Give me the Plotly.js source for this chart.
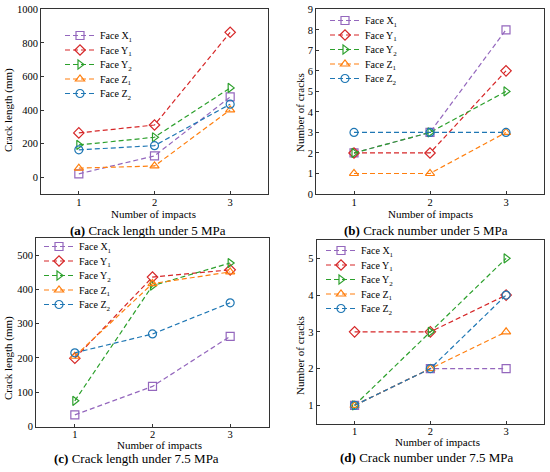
<!DOCTYPE html>
<html>
<head>
<meta charset="utf-8">
<script src="https://cdn.plot.ly/plotly-3.0.1.min.js"></script>
<style>html,body{margin:0;padding:0;background:#fff;}#chart{width:550px;height:472px;}</style>
</head>
<body>
<div id="chart"></div>
<script>
// ---- data ----
var impacts = [1, 2, 3];
var faceNames = ['Face X<sub>1</sub>', 'Face Y<sub>1</sub>', 'Face Y<sub>2</sub>', 'Face Z<sub>1</sub>', 'Face Z<sub>2</sub>'];

// (a) crack length under 5 MPa (mm)
var lenA_X1 = [20, 127, 478];
var lenA_Y1 = [264, 311, 863];
var lenA_Y2 = [192, 238, 532];
var lenA_Z1 = [54, 67, 401];
var lenA_Z2 = [163, 188, 435];

// (b) crack number under 5 MPa
var numB_X1 = [2, 3, 8];
var numB_Y1 = [2, 2, 6];
var numB_Y2 = [2, 3, 5];
var numB_Z1 = [1, 1, 3];
var numB_Z2 = [3, 3, 3];

// (c) crack length under 7.5 MPa (mm)
var lenC_X1 = [34, 117, 263];
var lenC_Y1 = [199, 436, 457];
var lenC_Y2 = [75, 411, 477];
var lenC_Z1 = [205, 417, 451];
var lenC_Z2 = [215, 270, 361];

// (d) crack number under 7.5 MPa
var numD_X1 = [1, 2, 2];
var numD_Y1 = [3, 3, 4];
var numD_Y2 = [1, 3, 5];
var numD_Z1 = [1, 2, 3];
var numD_Z2 = [1, 2, 4];

var xTickVals = [1, 2, 3];
var yTicksA = [0, 200, 400, 600, 800, 1000];
var yTicksB = [0, 1, 2, 3, 4, 5, 6, 7, 8, 9];
var yTicksC = [0, 100, 200, 300, 400, 500];
var yTicksD = [1, 2, 3, 4, 5];

// ---- styling ----
var colors = ['#9467bd', '#d62728', '#2ca02c', '#ff7f0e', '#1f77b4'];
var symbols = ['square-open', 'diamond-open', 'triangle-right-open', 'triangle-up-open', 'circle-open'];
var FONT = 'Liberation Serif';

var W = 550, H = 472;
function px(x) { return x / W; }
function py(y) { return 1 - y / H; }

var panels = [
  {series: [lenA_X1, lenA_Y1, lenA_Y2, lenA_Z1, lenA_Z2], xa: 'x', ya: 'y', legend: 'legend'},
  {series: [numB_X1, numB_Y1, numB_Y2, numB_Z1, numB_Z2], xa: 'x2', ya: 'y2', legend: 'legend2'},
  {series: [lenC_X1, lenC_Y1, lenC_Y2, lenC_Z1, lenC_Z2], xa: 'x3', ya: 'y3', legend: 'legend3'},
  {series: [numD_X1, numD_Y1, numD_Y2, numD_Z1, numD_Z2], xa: 'x4', ya: 'y4', legend: 'legend4'}
];

var traces = [];
panels.forEach(function (p) {
  p.series.forEach(function (vals, i) {
    traces.push({
      type: 'scatter', mode: 'lines+markers',
      x: impacts, y: vals, name: faceNames[i],
      xaxis: p.xa, yaxis: p.ya, legend: p.legend,
      line: {color: colors[i], width: 1.2, dash: '5px,3px'},
      marker: {symbol: symbols[i], size: 8, color: colors[i], line: {width: 1.2, color: colors[i]}},
      cliponaxis: false
    });
  });
});

function xaxis(dom, anchor) {
  return {domain: dom, anchor: anchor, range: [0.5, 3.5], tickvals: xTickVals,
    ticks: 'inside', ticklen: 3, tickcolor: '#333', showline: true, linecolor: '#333', linewidth: 1,
    mirror: true, showgrid: false, zeroline: false, ticklabelstandoff: -2,
    tickfont: {family: FONT, size: 10.5, color: '#000'}};
}
function yaxis(dom, anchor, range, tv) {
  return {domain: dom, anchor: anchor, range: range, tickvals: tv,
    ticks: 'inside', ticklen: 3, tickcolor: '#333', showline: true, linecolor: '#333', linewidth: 1,
    mirror: true, showgrid: false, zeroline: false,
    tickfont: {family: FONT, size: 10.5, color: '#000'}};
}
function legend(xp, yp) {
  return {x: px(xp), y: py(yp), xanchor: 'left', yanchor: 'top', bgcolor: 'rgba(0,0,0,0)',
    font: {family: FONT, size: 10, color: '#000'}, itemwidth: 30, tracegroupgap: 0};
}
function ann(text, x, y, size, rot) {
  return {text: text, x: px(x), y: py(y), xref: 'paper', yref: 'paper', showarrow: false,
    xanchor: 'center', yanchor: 'middle', textangle: rot || 0,
    font: {family: FONT, size: size, color: '#000'}};
}

var layout = {
  width: W, height: H, margin: {l: 0, r: 0, t: 0, b: 0},
  paper_bgcolor: '#fff', plot_bgcolor: '#fff', showlegend: true,
  font: {family: FONT},
  xaxis: xaxis([px(41), px(268)], 'y'),
  yaxis: yaxis([py(194), py(9.3)], 'x', [-100, 1000], yTicksA),
  xaxis2: xaxis([px(316), px(544)], 'y2'),
  yaxis2: yaxis([py(194), py(9.3)], 'x2', [0, 9], yTicksB),
  xaxis3: xaxis([px(36), px(269)], 'y3'),
  yaxis3: yaxis([py(426.5), py(238)], 'x3', [0, 550], yTicksC),
  xaxis4: xaxis([px(316.7), px(544)], 'y4'),
  yaxis4: yaxis([py(423.7), py(240)], 'x4', [0.5, 5.5], yTicksD),
  legend: legend(60, 21),
  legend2: legend(325, 6),
  legend3: legend(39, 232),
  legend4: legend(321, 236),
  annotations: [
    ann('Number of impacts', 153, 214, 11),
    ann('<b>(a)</b> Crack length under 5 MPa', 148, 230, 13),
    ann('Crack length (mm)', 8, 110, 11, -90),
    ann('Number of impacts', 430, 214, 11),
    ann('<b>(b)</b> Crack number under 5 MPa', 426, 230, 13),
    ann('Number of cracks', 300, 113, 11, -90),
    ann('Number of impacts', 159, 444.5, 11),
    ann('<b>(c)</b> Crack length under 7.5 MPa', 136, 458, 13),
    ann('Crack length (mm)', 8, 358, 11, -90),
    ann('Number of impacts', 437, 442, 11),
    ann('<b>(d)</b> Crack number under 7.5 MPa', 427, 457.5, 13),
    ann('Number of cracks', 300, 356, 11, -90)
  ]
};

Plotly.newPlot('chart', traces, layout, {staticPlot: true, displayModeBar: false}).then(function (gd) {
  // tighten legend row spacing to match the reference (about 14.5 px per entry)
  ['legend', 'legend2', 'legend3', 'legend4'].forEach(function (name) {
    var g = gd.querySelector('g.' + name);
    if (!g) return;
    var items = g.querySelectorAll('g.traces');
    var first = null;
    items.forEach(function (it, i) {
      var t = it.getAttribute('transform') || '';
      var m = t.match(/translate\(\s*([-\d.e]+)[ ,]+([-\d.e]+)\s*\)/);
      if (!m) return;
      var x = parseFloat(m[1]), y = parseFloat(m[2]);
      if (first === null) first = y;
      it.setAttribute('transform', 'translate(' + x + ',' + (first + i * 14.5) + ')');
    });
  });
});
</script>
</body>
</html>
